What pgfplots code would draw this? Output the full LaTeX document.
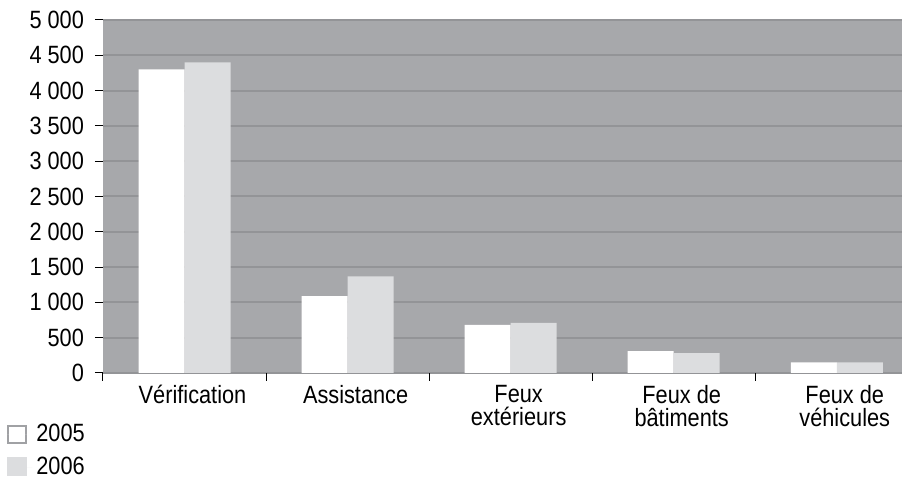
\documentclass[border=0pt]{standalone}
\usepackage{fontspec}
\setmainfont{Liberation Sans}[FakeStretch=0.87]
\usepackage{pgfplots}
\pgfplotsset{compat=1.18}
\definecolor{bggray}{HTML}{A7A8AB}
\definecolor{gridgray}{HTML}{939497}
\definecolor{bar06}{HTML}{DCDDDF}
\definecolor{leggray}{HTML}{A0A1A4}
\begin{document}
\begin{tikzpicture}
\useasboundingbox (-51.5pt,-53.5pt) rectangle (399.5pt,186.5pt);
\begin{axis}[
  scale only axis, width=399.5pt, height=176.5pt,
  at={(0,0)}, anchor=south west,
  xmin=-0.5, xmax=4.4, ymin=0, ymax=5000,
  ybar=0pt, bar width=23pt,
  axis background/.style={fill=bggray},
  axis line style={draw=none},
  ymajorgrids, grid style={gridgray, line width=1pt},
  ytick={0,500,...,5000},
  yticklabels={0,500,1 000,1 500,2 000,2 500,3 000,3 500,4 000,4 500,5 000},
  xtick={0,1,2,3,4},
  xticklabels={V\'erification,Assistance,Feux\\ext\'erieurs,Feux de\\b\^atiments,Feux de\\v\'ehicules},
  minor xtick={-0.5,0.5,1.5,2.5,3.5},
  every major x tick/.append style={draw=none},
  tick align=outside, major tick length=4pt, minor tick length=4pt,
  tick style={black, line width=0.5pt},
  xtick pos=left, ytick pos=left,
  every tick label/.append style={font=\fontsize{12.5}{11.75}\selectfont},
  xticklabel style={align=center, xshift=4pt, yshift=1.5pt},
  yticklabel style={xshift=-2pt},
  legend style={at={(axis description cs:0,0)}, anchor=north west, xshift=-48pt, yshift=-23.5pt,
    draw=none, fill=none, inner sep=0pt, font=\fontsize{12.5}{12}\selectfont, row sep=2pt},
  legend cell align=left,
]
\addplot[fill=white, draw=none,
  legend image code/.code={\draw[fill=white, draw=leggray, line width=1pt] (0.5pt,-4pt) rectangle (9.5pt,4.5pt); \path (0,0) -- (12.5pt,0);}]
  coordinates {(0,4300) (1,1090) (2,680) (3,310) (4,150)};
\addplot[fill=bar06, draw=none,
  legend image code/.code={\fill[bar06] (0pt,-4.5pt) rectangle (10pt,5pt); \path (0,0) -- (12.5pt,0);}]
  coordinates {(0,4400) (1,1370) (2,710) (3,280) (4,150)};
\legend{2005,2006}
\end{axis}
\end{tikzpicture}
\end{document}
